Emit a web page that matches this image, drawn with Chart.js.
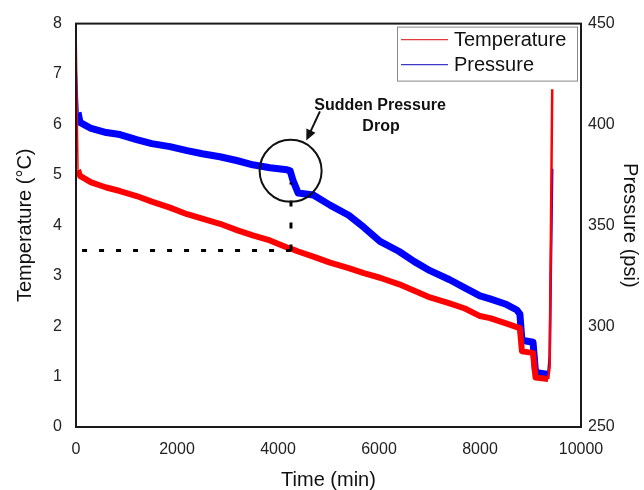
<!DOCTYPE html>
<html>
<head>
<meta charset="utf-8">
<script src="https://cdn.jsdelivr.net/npm/chart.js@4.4.1/dist/chart.umd.min.js"></script>
<style>
html, body { margin: 0; padding: 0; background: #fff; }
</style>
</head>
<body>
<canvas id="chart" width="644" height="490"></canvas>
<script>
// values
var timeMin = [0, 40, 80, 300, 600, 870, 1200, 1500, 1860, 2200, 2500, 2850, 3200, 3500, 3840,
  4180, 4240, 4300, 4400, 4700, 5030, 5400, 5700, 6020, 6400, 6700, 7010, 7400, 7700, 8000,
  8200, 8500, 8730, 8790, 8830, 9050, 9100, 9350, 9380, 9430];
var temperature = [8.0, 5.1, 4.98, 4.85, 4.75, 4.68, 4.58, 4.47, 4.35, 4.22, 4.13, 4.03, 3.9, 3.8, 3.7,
  3.56, 3.54, 3.52, 3.48, 3.38, 3.26, 3.15, 3.05, 2.96, 2.83, 2.7, 2.57, 2.45, 2.35, 2.2,
  2.16, 2.06, 1.98, 1.96, 1.5, 1.47, 0.98, 0.95, 1.2, 6.7];
var pressure = [430, 406, 401, 398, 396, 395, 392.5, 390.5, 389, 387, 385.5, 384, 382, 380, 378.5,
  377.5, 377, 372, 366, 365, 360, 355, 349, 342, 337, 332, 327.5, 323, 319, 315,
  313.5, 311, 308, 306, 293, 292, 277, 276, 285, 378];

var refTemp = 3.5;
var dropTime = 4257;
var seriesNames = ['Temperature', 'Pressure'];
var noteLines = ['Sudden Pressure', 'Drop'];

var FONT = '"Liberation Sans", Arial, sans-serif';

function pts(ys) {
  return timeMin.map(function (t, i) { return { x: t, y: ys[i] }; });
}

// thin line for the fast spikes at start and end, thick band elsewhere
function bandWidth(w) {
  return function (c) {
    var x0 = c.p0.parsed.x;
    if (x0 < 40) return 1.5;
    if (x0 >= 9350) return 2.5;
    return w;
  };
}

var overlay = {
  id: 'overlay',
  afterDatasetsDraw: function (chart) {
    var ctx = chart.ctx, a = chart.chartArea;
    var sx = chart.scales.x, sp = chart.scales.y1;
    ctx.save();

    // plot frame
    ctx.strokeStyle = '#1a1a1a';
    ctx.lineWidth = 2;
    ctx.strokeRect(a.left, a.top, a.right - a.left, a.bottom - a.top);

    // circle round the drop
    ctx.strokeStyle = '#111';
    ctx.lineWidth = 2;
    ctx.beginPath();
    ctx.arc(sx.getPixelForValue(4250), sp.getPixelForValue(377), 31, 0, Math.PI * 2);
    ctx.stroke();

    // arrow
    var x1 = sx.getPixelForValue(4830), y1 = sp.getPixelForValue(406.5);
    var x2 = sx.getPixelForValue(4560), y2 = sp.getPixelForValue(392);
    var ang = Math.atan2(y2 - y1, x2 - x1);
    ctx.beginPath();
    ctx.moveTo(x1, y1);
    ctx.lineTo(x2 - 8 * Math.cos(ang), y2 - 8 * Math.sin(ang));
    ctx.stroke();
    ctx.fillStyle = '#111';
    ctx.beginPath();
    ctx.moveTo(x2, y2);
    ctx.lineTo(x2 - 11 * Math.cos(ang) + 5 * Math.sin(ang), y2 - 11 * Math.sin(ang) - 5 * Math.cos(ang));
    ctx.lineTo(x2 - 11 * Math.cos(ang) - 5 * Math.sin(ang), y2 - 11 * Math.sin(ang) + 5 * Math.cos(ang));
    ctx.closePath();
    ctx.fill();

    // annotation text
    ctx.font = 'bold 16px ' + FONT;
    ctx.textAlign = 'center';
    ctx.textBaseline = 'middle';
    ctx.fillText(noteLines[0], sx.getPixelForValue(6020), sp.getPixelForValue(409.5));
    ctx.fillText(noteLines[1], sx.getPixelForValue(6040), sp.getPixelForValue(399));

    // legend box inside the plot, top right
    var bx = a.right - 184, by = a.top + 3;
    ctx.strokeStyle = '#888';
    ctx.lineWidth = 1;
    ctx.strokeRect(bx + 0.5, by + 0.5, 180, 54);
    var cols = ['#e03a3a', '#3a3ac8'];
    ctx.font = '20px ' + FONT;
    ctx.textAlign = 'left';
    ctx.fillStyle = '#111';
    for (var i = 0; i < 2; i++) {
      var ly = by + 13 + i * 25;
      ctx.strokeStyle = cols[i];
      ctx.lineWidth = 1.2;
      ctx.beginPath();
      ctx.moveTo(bx + 4, ly);
      ctx.lineTo(bx + 51, ly);
      ctx.stroke();
      ctx.fillText(chart.data.datasets[i].label, bx + 57, ly + 1);
    }
    ctx.restore();
  }
};

new Chart(document.getElementById('chart'), {
  type: 'line',
  data: {
    datasets: [
      {
        label: seriesNames[0],
        data: pts(temperature),
        yAxisID: 'y',
        borderColor: '#ff0000',
        borderWidth: 6,
        borderJoinStyle: 'round',
        segment: { borderWidth: bandWidth(6) },
        pointRadius: 0,
        tension: 0,
        order: 1
      },
      {
        label: seriesNames[1],
        data: pts(pressure),
        yAxisID: 'y1',
        borderColor: '#0000ff',
        borderWidth: 7,
        borderJoinStyle: 'round',
        segment: { borderWidth: bandWidth(7) },
        pointRadius: 0,
        tension: 0,
        order: 2
      },
      {
        label: 'ref-h',
        data: [{ x: 120, y: refTemp }, { x: dropTime, y: refTemp }],
        yAxisID: 'y',
        borderColor: '#000',
        borderWidth: 3,
        borderDash: [5, 12],
        pointRadius: 0,
        order: 0
      },
      {
        label: 'ref-v',
        data: [{ x: dropTime, y: refTemp }, { x: dropTime, y: 4.85 }],
        yAxisID: 'y',
        borderColor: '#000',
        borderWidth: 3,
        borderDash: [6, 16],
        pointRadius: 0,
        order: 0
      }
    ]
  },
  options: {
    responsive: false,
    animation: false,
    layout: { padding: { top: 22, left: 0, right: 0, bottom: 0 } },
    plugins: {
      legend: { display: false },
      tooltip: { enabled: false }
    },
    scales: {
      x: {
        type: 'linear',
        min: 0,
        max: 10000,
        grid: { display: false, drawTicks: false },
        border: { display: false },
        ticks: {
          stepSize: 2000, maxRotation: 0, padding: 13, color: '#222', font: { family: FONT, size: 16 },
          callback: function (v) { return String(v); }
        },
        title: { display: true, text: 'Time (min)', color: '#111', padding: 0, font: { family: FONT, size: 20, lineHeight: 1 } },
        afterFit: function (s) { s.height = 63; }
      },
      y: {
        position: 'left',
        min: 0,
        max: 8,
        grid: { display: false, drawTicks: false },
        border: { display: false },
        ticks: { stepSize: 1, padding: 14, color: '#222', font: { family: FONT, size: 16 } },
        title: { display: true, text: 'Temperature (°C)', color: '#111', padding: { top: 15, bottom: 0 }, font: { family: FONT, size: 20, lineHeight: 1 } },
        afterFit: function (s) { s.width = 76; }
      },
      y1: {
        position: 'right',
        min: 250,
        max: 450,
        grid: { display: false, drawTicks: false, drawOnChartArea: false },
        border: { display: false },
        ticks: { stepSize: 50, padding: 7, color: '#222', font: { family: FONT, size: 16 } },
        title: { display: true, text: 'Pressure (psi)', color: '#111', padding: { top: 4, bottom: 0 }, font: { family: FONT, size: 20, lineHeight: 1 } },
        afterFit: function (s) { s.width = 63; }
      }
    }
  },
  plugins: [overlay]
});
</script>
</body>
</html>
